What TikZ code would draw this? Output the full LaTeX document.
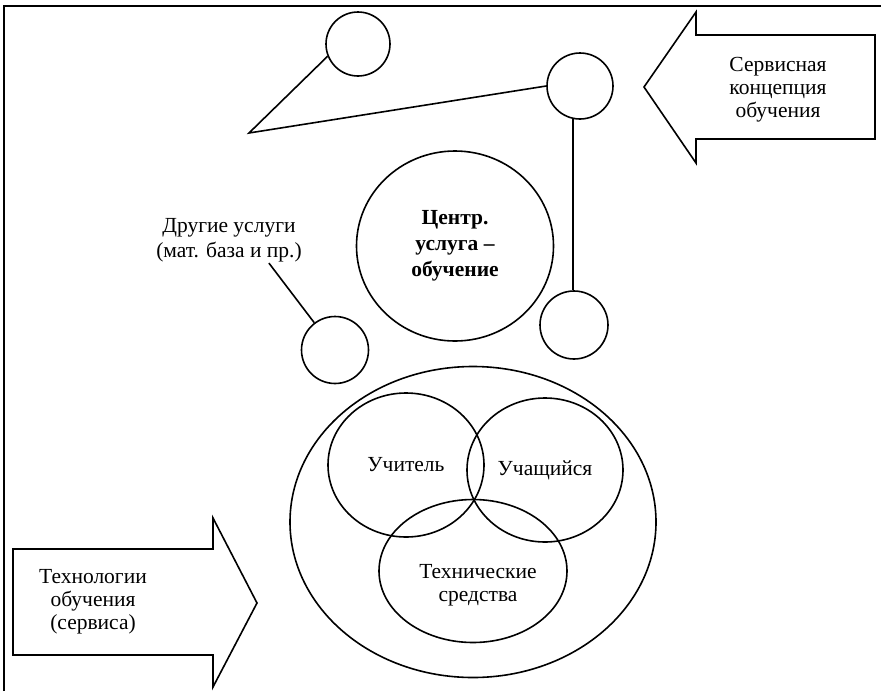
\documentclass[tikz,border=0pt]{standalone}
\usepackage{fontspec}
\setmainfont{Liberation Serif}
\usetikzlibrary{shapes.geometric, positioning, calc}

\begin{document}
\begin{tikzpicture}[
    x=1pt, y=-1pt,
    ring/.style={circle, draw, line width=1.6pt, inner sep=0pt, minimum size=#1},
    oval/.style 2 args={ellipse, draw, line width=1.6pt, inner sep=0pt, minimum width=#1, minimum height=#2, align=center, font={\fontsize{21.5}{25}\selectfont}},
    txt/.style={align=center, inner sep=1pt, font={\fontsize{21.5}{23}\selectfont}},
    link/.style={line width=1.6pt},
    bigarrow/.style={draw, line width=1.6pt, line join=miter}
]
\useasboundingbox (0,0) rectangle (881,691);

% frame
\draw[line width=2pt] (4,691) -- (4,6) -- (881,6);

% services around the centre
\node[ring=64] (top1) at (358,44) {};
\node[ring=66] (top2) at (580,86) {};
\node[ring=67] (side1) at (335,350) {};
\node[ring=68] (side2) at (574,325) {};
\node[oval={197}{190}, font={\fontsize{21.5}{26}\selectfont\bfseries}] (centre) at (455,246) {Центр.\\услуга --\\обучение};
\node[txt, font={\fontsize{21.5}{25}\selectfont}] (other) at (229,240) {Другие услуги\\(мат. база и пр.)};

\coordinate (apex) at (249,133);
\draw[link] (top1.202) -- (apex) -- (top2.west);
\draw[link] (top2.258) -- (top2.258 |- side2.north);
\draw[link] (other.-30) -- (side1);

% technology of teaching
\node[oval={366}{311}] (env) at (473,522) {};
\node[oval={156}{144}] (teacher) at (406,465) {Учитель};
\node[oval={156}{144}] (learner) at (545,470) {Учащийся};
\node[oval={188}{143}] (tools) at (473,571) {};
\node[txt] (toolstxt) at (478,585) {Технические\\средства};

% big arrows
\draw[bigarrow] (644,87) -- (696,12) -- (696,35) -- (875,35) -- (875,139) -- (696,139) -- (696,163) -- cycle;
\node[txt] (concept) at (778,90) {Сервисная\\концепция\\обучения};

\draw[bigarrow] (13,549) -- (213,549) -- (213,518) -- (257,603) -- (213,687) -- (213,655) -- (13,655) -- cycle;
\node[txt] (techn) at (93,602) {Технологии\\обучения\\(сервиса)};

\end{tikzpicture}
\end{document}
